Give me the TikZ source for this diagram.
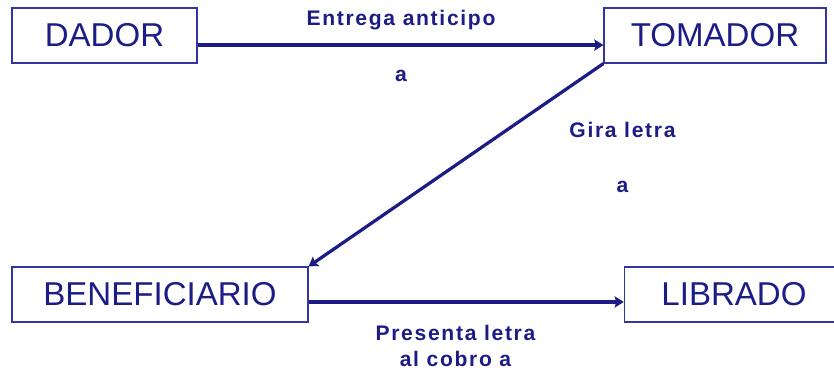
\documentclass[tikz,border=0pt]{standalone}
\usepackage{fontspec}
\setmainfont{Liberation Sans}
\newfontfamily\etiqfont[LetterSpace=8]{Liberation Sans}
\usetikzlibrary{arrows.meta}
\definecolor{azul}{RGB}{28,28,135}
\definecolor{borde}{RGB}{52,52,160}

\tikzset{
  caja/.style={draw=borde,line width=0.8pt,inner sep=0pt,minimum height=39.1pt,
    text=azul,font=\fontsize{23.5}{27}\selectfont},
  flecha/.style={draw=azul,line width=2.3pt,-{Stealth[length=6.5pt,width=8pt,inset=1.2pt]}},
  etiq/.style={text=azul,inner sep=0pt,anchor=base,
    font=\etiqfont\bfseries\fontsize{15}{18}\selectfont}
}

\begin{document}
\begin{tikzpicture}[x=0.025cm,y=-0.025cm]
        \useasboundingbox (0,0) rectangle (834,372);

        \node[caja,minimum width=131.6pt](dador)at(104.5,35.5){DADOR};
        \node[caja,minimum width=157.9pt](tomador)at(715,35.5){TOMADOR};
        \node[caja,minimum width=210.5pt](benef)at(160,294.5){BENEFICIARIO};
        \node[caja,minimum width=156pt](librado)at(734,294.5){LIBRADO};

        \draw[flecha]([yshift=-6.8pt]dador.east)--([yshift=-6.8pt]dador.east-|tomador.west);
        \draw[flecha](tomador.south west)--(benef.north east);
        \draw[flecha]([yshift=-5.3pt]benef.east)--([yshift=-5.3pt]benef.east-|librado.west);

        \node[etiq](entrega)at(401,26){Entrega anticipo};
        \node[etiq](entregaa)at(401,81.5){a};
        \node[etiq](gira)at(622.5,137.3){Gira letra};
        \node[etiq](giraa)at(622.5,193){a};
        \node[etiq](presenta)at(455.5,341){Presenta letra};
        \node[etiq](cobro)at(455.5,366.7){al cobro a};
    \end{tikzpicture}
\end{document}
